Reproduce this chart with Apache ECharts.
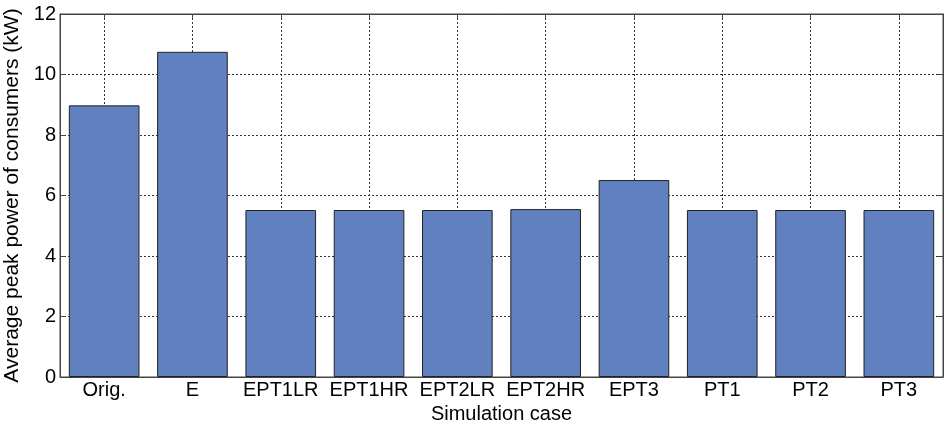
<!DOCTYPE html>
<html>
<head>
<meta charset="utf-8">
<script src="https://cdn.jsdelivr.net/npm/echarts@6/dist/echarts.min.js"></script>
<style>
  html, body { margin: 0; padding: 0; background: #fff; }
  #chart { width: 944px; height: 424px; }
</style>
</head>
<body>
<div id="chart"></div>
<script>
var categories = ['Orig.', 'E', 'EPT1LR', 'EPT1HR', 'EPT2LR', 'EPT2HR', 'EPT3', 'PT1', 'PT2', 'PT3'];
var peakPower = [8.98, 10.75, 5.52, 5.52, 5.52, 5.55, 6.51, 5.52, 5.52, 5.52];
var yTicks = [0, 2, 4, 6, 8, 10, 12];

var myChart = echarts.init(document.getElementById('chart'));
var font = 'Arial, "Liberation Sans", sans-serif';
var dotted = { color: '#333', width: 1, type: [2, 2] };

var option = {
    animation: false,
    grid: {
        left: 60, right: 1, top: 14, bottom: 47,
        outerBoundsMode: 'none',
        show: true, borderColor: '#444', borderWidth: 1
    },
    xAxis: [{
        type: 'category',
        data: categories,
        name: 'Simulation case',
        nameLocation: 'middle',
        nameGap: 18,
        nameTextStyle: { fontFamily: font, fontSize: 20, color: '#000' },
        axisLine: { lineStyle: { color: '#444' } },
        axisTick: { show: false },
        axisLabel: { fontFamily: font, fontSize: 20, color: '#000', margin: 3, interval: 0 },
        splitLine: { show: true, alignWithLabel: true, lineStyle: dotted }
    }, {
        type: 'category',
        data: categories,
        position: 'top',
        axisLine: { onZero: false, lineStyle: { color: '#444' } },
        axisTick: { show: true, inside: true, alignWithLabel: true, length: 5, lineStyle: { color: '#444' } },
        axisLabel: { show: false }
    }],
    yAxis: [{
        type: 'value',
        min: yTicks[0],
        max: yTicks[yTicks.length - 1],
        interval: 2,
        name: 'Average peak power of consumers (kW)',
        nameLocation: 'middle',
        nameGap: 32,
        nameTextStyle: { fontFamily: font, fontSize: 21, color: '#000' },
        axisLine: { show: true, lineStyle: { color: '#444' } },
        axisTick: { show: true, inside: true, length: 5, lineStyle: { color: '#444' } },
        axisLabel: { fontFamily: font, fontSize: 20, color: '#000', margin: 4 },
        splitLine: { show: true, lineStyle: dotted }
    }, {
        type: 'value',
        min: yTicks[0],
        max: yTicks[yTicks.length - 1],
        interval: 2,
        position: 'right',
        axisLine: { show: true, onZero: false, lineStyle: { color: '#444' } },
        axisTick: { show: true, inside: true, length: 5, lineStyle: { color: '#444' } },
        axisLabel: { show: false },
        splitLine: { show: false }
    }],
    series: [{
        name: 'Average peak power',
        type: 'bar',
        data: peakPower,
        barWidth: '80%',
        itemStyle: { color: '#6080c0', borderColor: '#222', borderWidth: 1 }
    }]
};

myChart.setOption(option, true);
</script>
</body>
</html>
